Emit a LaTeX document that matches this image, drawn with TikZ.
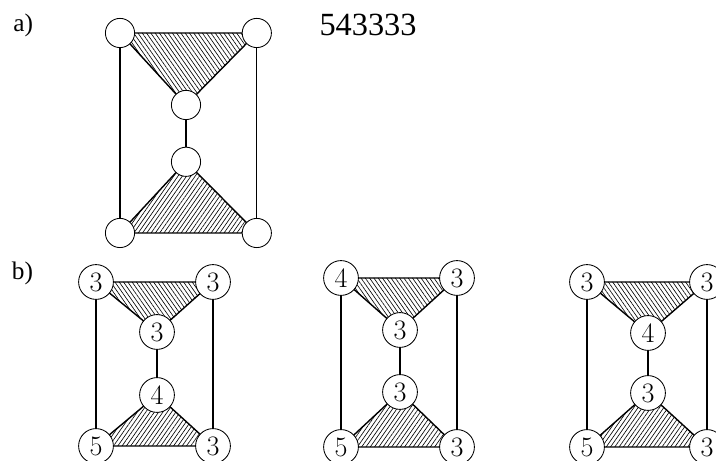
\documentclass[tikz,border=0pt]{standalone}
\usepackage{fontspec}
\newfontfamily\timesfont{Liberation Serif}
\usepackage{tikz}
\usetikzlibrary{patterns.meta}

\begin{document}
\begin{tikzpicture}[
    vert/.style={circle, draw, fill=white, inner sep=0pt, line width=0.6pt},
    pointa/.style={vert, minimum size=0.73cm},
    pointb/.style={vert, minimum size=0.87cm, font=\fontsize{20}{22}\selectfont},
    hatchtop/.style={pattern={Lines[angle=-55,distance=2.5pt,line width=0.45pt]}},
    hatchbot/.style={pattern={Lines[angle=55,distance=2.5pt,line width=0.45pt]}},
    tri/.style={line width=1pt},
    side/.style={line width=0.8pt}
]
    \useasboundingbox (0,0) rectangle (17.9,11.525);

    \coordinate (A1) at (3,10.7);
    \coordinate (A2) at (6.42,10.7);
    \coordinate (A3) at (4.65,8.9);
    \coordinate (A4) at (4.65,7.48);
    \coordinate (A5) at (3,5.7);
    \coordinate (A6) at (6.42,5.7);

    \fill[hatchtop] (A1) -- (A2) -- (A3) -- cycle;
    \fill[hatchbot] (A4) -- (A5) -- (A6) -- cycle;
    \draw[tri] (A1) -- (A2) -- (A3) -- cycle;
    \draw[tri] (A4) -- (A5) -- (A6) -- cycle;
    \draw[side] (A1) -- (A5);
    \draw[side] (A2) -- (A6);
    \draw[side] (A3) -- (A4);
    \foreach \p in {A1,A2,A3,A4,A5,A6}
        \node[pointa] (n\p) at (\p) {};

    \node (la) at (0.58,10.9) {\timesfont\fontsize{18}{20}\selectfont a)};
    \node (seq) at (9.2,10.9) {\timesfont\fontsize{23}{25}\selectfont 543333};
    \node (lb) at (0.56,4.7) {\timesfont\fontsize{18}{20}\selectfont b)};

    \coordinate (B1) at (2.4,4.475);
    \coordinate (B2) at (5.325,4.475);
    \coordinate (B3) at (3.925,3.225);
    \coordinate (B4) at (3.925,1.65);
    \coordinate (B5) at (2.4,0.375);
    \coordinate (B6) at (5.325,0.375);

    \fill[hatchtop] (B1) -- (B2) -- (B3) -- cycle;
    \fill[hatchbot] (B4) -- (B5) -- (B6) -- cycle;
    \draw[tri] (B1) -- (B2) -- (B3) -- cycle;
    \draw[tri] (B4) -- (B5) -- (B6) -- cycle;
    \draw[side] (B1) -- (B5);
    \draw[side] (B2) -- (B6);
    \draw[side] (B3) -- (B4);
    \node[pointb] (nB1) at (B1) {3};
    \node[pointb] (nB2) at (B2) {3};
    \node[pointb] (nB3) at (B3) {3};
    \node[pointb] (nB4) at (B4) {4};
    \node[pointb] (nB5) at (B5) {5};
    \node[pointb] (nB6) at (B6) {3};

    \coordinate (C1) at (8.525,4.575);
    \coordinate (C2) at (11.425,4.575);
    \coordinate (C3) at (10,3.275);
    \coordinate (C4) at (10,1.725);
    \coordinate (C5) at (8.525,0.35);
    \coordinate (C6) at (11.425,0.35);

    \fill[hatchtop] (C1) -- (C2) -- (C3) -- cycle;
    \fill[hatchbot] (C4) -- (C5) -- (C6) -- cycle;
    \draw[tri] (C1) -- (C2) -- (C3) -- cycle;
    \draw[tri] (C4) -- (C5) -- (C6) -- cycle;
    \draw[side] (C1) -- (C5);
    \draw[side] (C2) -- (C6);
    \draw[side] (C3) -- (C4);
    \node[pointb] (nC1) at (C1) {4};
    \node[pointb] (nC2) at (C2) {3};
    \node[pointb] (nC3) at (C3) {3};
    \node[pointb] (nC4) at (C4) {3};
    \node[pointb] (nC5) at (C5) {5};
    \node[pointb] (nC6) at (C6) {3};

    \coordinate (D1) at (14.675,4.475);
    \coordinate (D2) at (17.675,4.475);
    \coordinate (D3) at (16.2,3.2);
    \coordinate (D4) at (16.2,1.7);
    \coordinate (D5) at (14.675,0.35);
    \coordinate (D6) at (17.675,0.35);

    \fill[hatchtop] (D1) -- (D2) -- (D3) -- cycle;
    \fill[hatchbot] (D4) -- (D5) -- (D6) -- cycle;
    \draw[tri] (D1) -- (D2) -- (D3) -- cycle;
    \draw[tri] (D4) -- (D5) -- (D6) -- cycle;
    \draw[side] (D1) -- (D5);
    \draw[side] (D2) -- (D6);
    \draw[side] (D3) -- (D4);
    \node[pointb] (nD1) at (D1) {3};
    \node[pointb] (nD2) at (D2) {3};
    \node[pointb] (nD3) at (D3) {4};
    \node[pointb] (nD4) at (D4) {3};
    \node[pointb] (nD5) at (D5) {5};
    \node[pointb] (nD6) at (D6) {3};
\end{tikzpicture}
\end{document}
